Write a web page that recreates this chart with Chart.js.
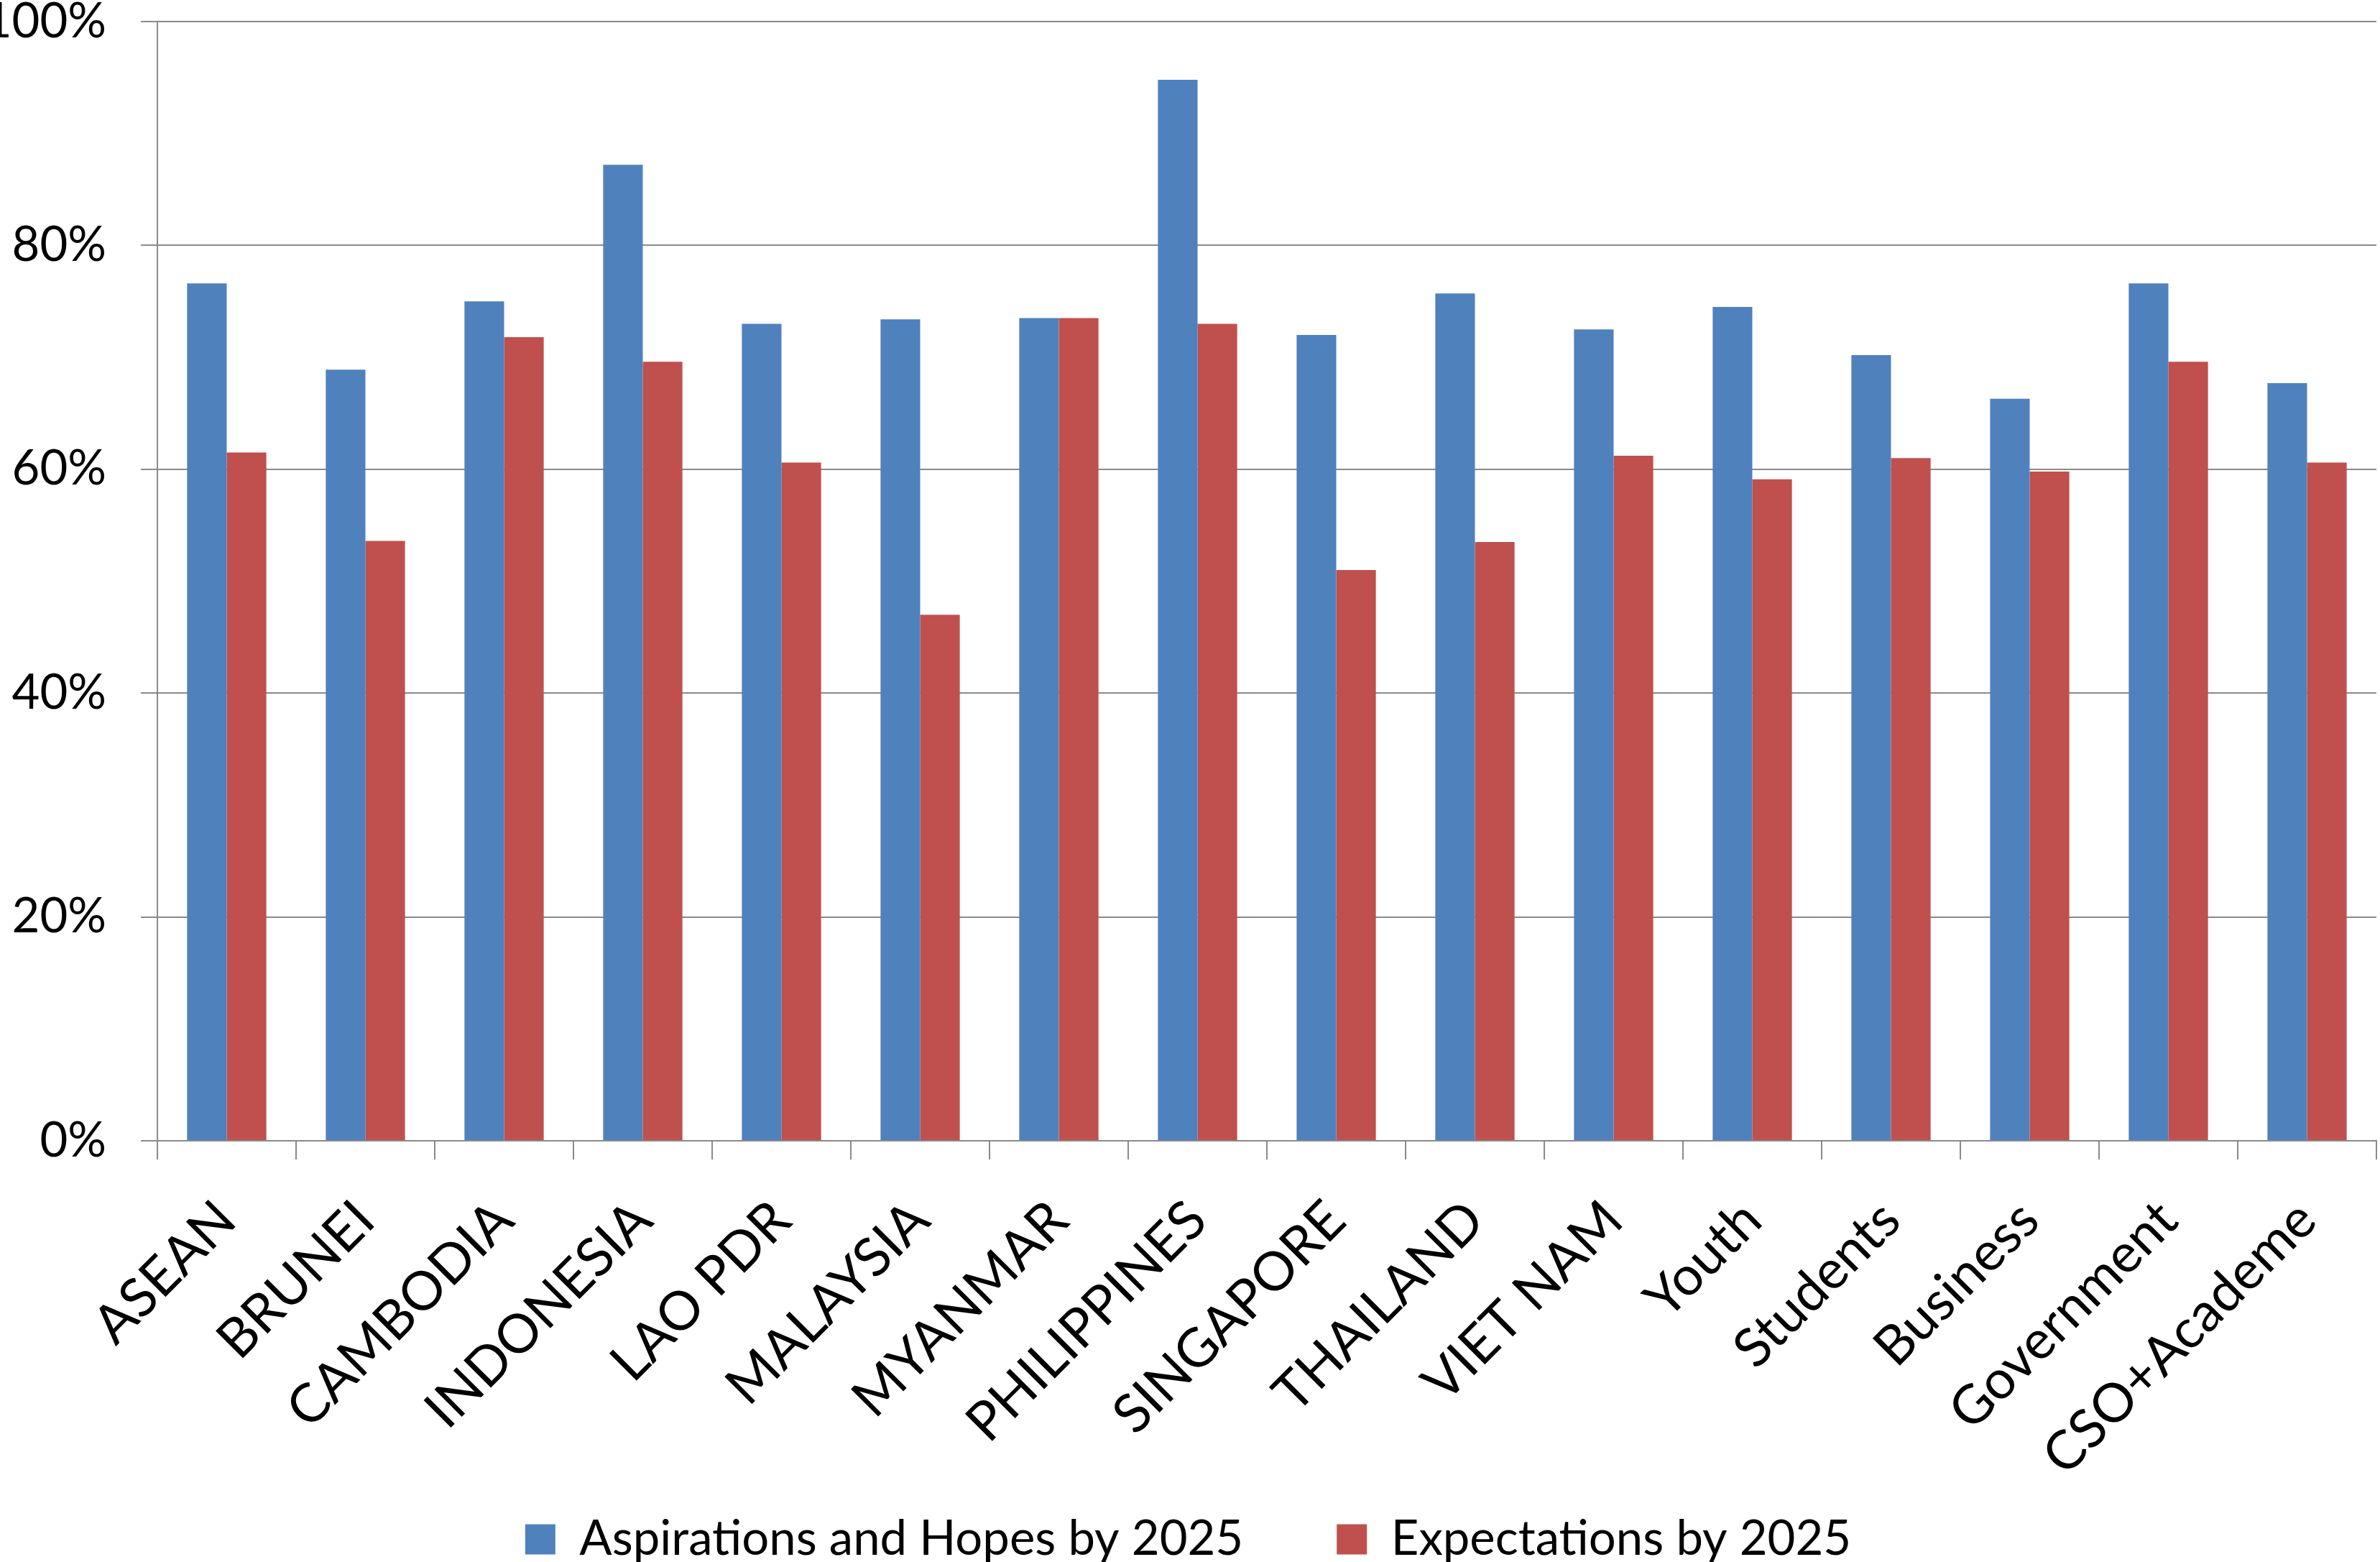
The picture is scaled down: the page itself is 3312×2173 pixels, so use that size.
<!DOCTYPE html>
<html>
<head>
<meta charset="utf-8">
<script src="https://cdn.jsdelivr.net/npm/chart.js@4.4.1/dist/chart.umd.min.js"></script>
<style>
  html, body { margin: 0; padding: 0; background: #ffffff; }
  #wrap { width: 3312px; height: 2173px; }
</style>
</head>
<body>
<div id="wrap"><canvas id="c" width="3312" height="2173"></canvas></div>
<script>
const categories = ['ASEAN', 'BRUNEI', 'CAMBODIA', 'INDONESIA', 'LAO PDR', 'MALAYSIA', 'MYANMAR', 'PHILIPPINES', 'SINGAPORE', 'THAILAND', 'VIET NAM', 'Youth', 'Students', 'Business', 'Government', 'CSO+Academe'];
const aspirations = [76.6, 68.9, 75.0, 87.2, 73.0, 73.4, 73.5, 94.8, 72.0, 75.7, 72.5, 74.5, 70.2, 66.3, 76.6, 67.7];
const expectations = [61.5, 53.6, 71.8, 69.6, 60.6, 47.0, 73.5, 73.0, 51.0, 53.5, 61.2, 59.1, 61.0, 59.8, 69.6, 60.6];
const seriesNames = ['Aspirations and Hopes by 2025', 'Expectations by 2025'];
const yTickValues = [0, 20, 40, 60, 80, 100];

const FONT = 'Lato';
const GRID = '#8a8a8a';
const CANVAS_H = 2173;
const PLOT_BOTTOM = 1587;
const PAD_BOTTOM = -12;

// Let the rotated category labels run below the axis box instead of being clipped.
const unclipLabels = {
  id: 'unclipLabels',
  afterLayout(chart) {
    const x = chart.scales.x;
    if (x) { x.bottom = chart.height; }
  }
};

function build() {
  const ctx = document.getElementById('c').getContext('2d');
  new Chart(ctx, {
    type: 'bar',
    data: {
      labels: categories,
      datasets: [
        { label: seriesNames[0], data: aspirations, backgroundColor: '#4F81BD', borderWidth: 0,
          categoryPercentage: 0.5714, barPercentage: 1.0 },
        { label: seriesNames[1], data: expectations, backgroundColor: '#C0504D', borderWidth: 0,
          categoryPercentage: 0.5714, barPercentage: 1.0 }
      ]
    },
    plugins: [unclipLabels],
    options: {
      responsive: false,
      animation: false,
      devicePixelRatio: 1,
      layout: { padding: { top: 30, right: 5, left: 0, bottom: PAD_BOTTOM } },
      plugins: {
        legend: {
          position: 'bottom',
          labels: {
            boxWidth: 42, boxHeight: 42, padding: 130,
            color: '#000',
            font: { family: FONT, size: 67 }
          }
        },
        tooltip: { enabled: false },
        title: { display: false }
      },
      scales: {
        x: {
          grid: { drawOnChartArea: false, drawTicks: true, tickLength: 26, color: GRID, lineWidth: 2, offset: true },
          border: { display: true, color: GRID, width: 2 },
          ticks: {
            autoSkip: false, maxRotation: 45, minRotation: 45, padding: 40,
            color: '#000', font: { family: FONT, size: 75 }
          },
          afterFit: function(s) {
            s.paddingLeft = 0; s.paddingRight = 0;
            const lh = (s.chart.legend && s.chart.legend.height) ? s.chart.legend.height : 0;
            s.height = CANVAS_H - PAD_BOTTOM - lh - PLOT_BOTTOM;
          }
        },
        y: {
          min: 0, max: 100,
          afterBuildTicks: function(s) { s.ticks = yTickValues.map(v => ({ value: v })); },
          grid: { drawTicks: true, tickLength: 23, color: GRID, lineWidth: 2 },
          border: { display: true, color: GRID, width: 2 },
          ticks: {
            padding: 48, color: '#000', font: { family: FONT, size: 67 },
            callback: v => v + '%'
          },
          afterFit: function(s) { s.width = 219; s.paddingTop = 0; s.paddingBottom = 0; }
        }
      }
    }
  });
}

Promise.all([
  document.fonts.load('67px Lato'),
  document.fonts.load('75px Lato')
]).then(build, build);
</script>
</body>
</html>
